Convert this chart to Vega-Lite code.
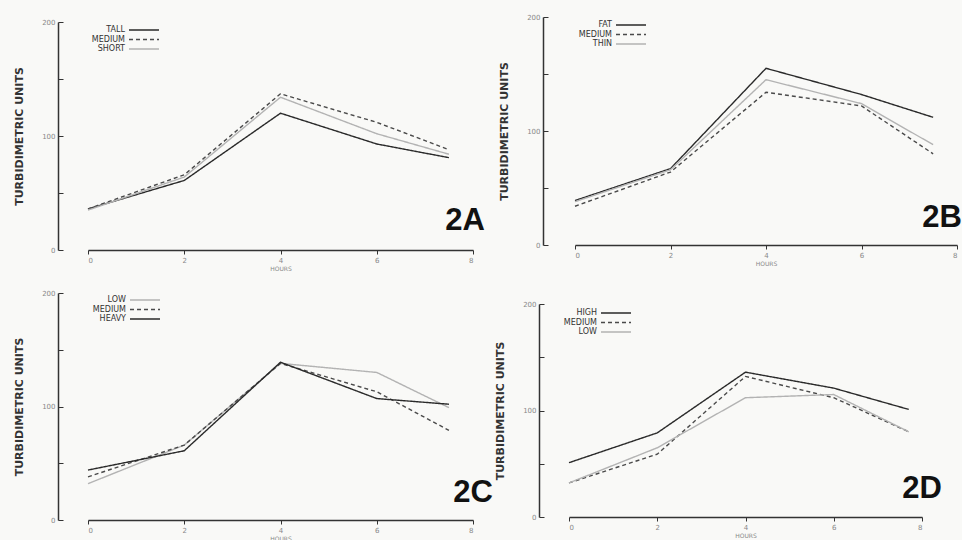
{
  "$schema": "https://vega.github.io/schema/vega-lite/v6.json",
  "padding": {"left": 13, "top": 13, "right": 0, "bottom": 0},
  "background": "#f9f9f7",
  "datasets": {
    "A": [
      {"group": "TALL", "hours": 0, "value": 36}, {"group": "TALL", "hours": 2, "value": 61}, {"group": "TALL", "hours": 4, "value": 120}, {"group": "TALL", "hours": 6, "value": 93}, {"group": "TALL", "hours": 7.5, "value": 81},
      {"group": "MEDIUM", "hours": 0, "value": 36}, {"group": "MEDIUM", "hours": 2, "value": 66}, {"group": "MEDIUM", "hours": 4, "value": 137}, {"group": "MEDIUM", "hours": 6, "value": 112}, {"group": "MEDIUM", "hours": 7.5, "value": 88},
      {"group": "SHORT", "hours": 0, "value": 35}, {"group": "SHORT", "hours": 2, "value": 64}, {"group": "SHORT", "hours": 4, "value": 134}, {"group": "SHORT", "hours": 6, "value": 102}, {"group": "SHORT", "hours": 7.5, "value": 84}
    ],
    "B": [
      {"group": "FAT", "hours": 0, "value": 39}, {"group": "FAT", "hours": 2, "value": 67}, {"group": "FAT", "hours": 4, "value": 155}, {"group": "FAT", "hours": 6, "value": 132}, {"group": "FAT", "hours": 7.5, "value": 112},
      {"group": "MEDIUM", "hours": 0, "value": 34}, {"group": "MEDIUM", "hours": 2, "value": 64}, {"group": "MEDIUM", "hours": 4, "value": 134}, {"group": "MEDIUM", "hours": 6, "value": 122}, {"group": "MEDIUM", "hours": 7.5, "value": 80},
      {"group": "THIN", "hours": 0, "value": 38}, {"group": "THIN", "hours": 2, "value": 66}, {"group": "THIN", "hours": 4, "value": 145}, {"group": "THIN", "hours": 6, "value": 124}, {"group": "THIN", "hours": 7.5, "value": 88}
    ],
    "C": [
      {"group": "LOW", "hours": 0, "value": 32}, {"group": "LOW", "hours": 2, "value": 66}, {"group": "LOW", "hours": 4, "value": 138}, {"group": "LOW", "hours": 6, "value": 130}, {"group": "LOW", "hours": 7.5, "value": 99},
      {"group": "MEDIUM", "hours": 0, "value": 38}, {"group": "MEDIUM", "hours": 2, "value": 66}, {"group": "MEDIUM", "hours": 4, "value": 138}, {"group": "MEDIUM", "hours": 6, "value": 113}, {"group": "MEDIUM", "hours": 7.5, "value": 79},
      {"group": "HEAVY", "hours": 0, "value": 44}, {"group": "HEAVY", "hours": 2, "value": 61}, {"group": "HEAVY", "hours": 4, "value": 139}, {"group": "HEAVY", "hours": 6, "value": 107}, {"group": "HEAVY", "hours": 7.5, "value": 102}
    ],
    "D": [
      {"group": "HIGH", "hours": 0, "value": 51}, {"group": "HIGH", "hours": 2, "value": 79}, {"group": "HIGH", "hours": 4, "value": 136}, {"group": "HIGH", "hours": 6, "value": 121}, {"group": "HIGH", "hours": 7.7, "value": 101},
      {"group": "MEDIUM", "hours": 0, "value": 32}, {"group": "MEDIUM", "hours": 2, "value": 59}, {"group": "MEDIUM", "hours": 4, "value": 132}, {"group": "MEDIUM", "hours": 6, "value": 112}, {"group": "MEDIUM", "hours": 7.7, "value": 80},
      {"group": "LOW", "hours": 0, "value": 32}, {"group": "LOW", "hours": 2, "value": 65}, {"group": "LOW", "hours": 4, "value": 112}, {"group": "LOW", "hours": 6, "value": 115}, {"group": "LOW", "hours": 7.7, "value": 80}
    ],
    "one": [{}]
  },
  "vconcat": [
    {
      "hconcat": [
        {
          "width": 385, "height": 233,
          "layer": [
            {
              "data": {"name": "A"},
              "mark": {"type": "line", "strokeWidth": 1.4},
              "encoding": {
                "x": {"field": "hours", "type": "quantitative", "scale": {"domain": [0, 8], "nice": false}, "axis": {"title": "HOURS", "values": [0, 2, 4, 6, 8]}},
                "y": {"field": "value", "type": "quantitative", "scale": {"domain": [0, 200], "nice": false, "range": [233, 5]}, "axis": {"title": "TURBIDIMETRIC UNITS", "values": [0, 50, 100, 150, 200]}},
                "color": {"field": "group", "type": "nominal", "scale": {"domain": ["TALL", "MEDIUM", "SHORT"], "range": ["#2a2a2a", "#4a4a4a", "#b3b3b3"]}, "legend": {"title": null, "legendX": 52, "legendY": 9}},
                "strokeDash": {"field": "group", "type": "nominal", "scale": {"domain": ["TALL", "MEDIUM", "SHORT"], "range": [[1, 0], [4, 3], [1, 0]]}, "legend": {"title": null, "legendX": 52, "legendY": 9}}
              }
            },
            {
              "data": {"name": "one"},
              "mark": {"type": "text", "text": "2A", "align": "right", "baseline": "alphabetic", "dx": 12, "font": "Liberation Sans", "fontSize": 31, "fontWeight": "bold", "color": "#111"},
              "encoding": {"x": {"datum": 8}, "y": {"datum": 17.5}}
            }
          ]
        },
        {
          "width": 382, "height": 228,
          "layer": [
            {
              "data": {"name": "B"},
              "mark": {"type": "line", "strokeWidth": 1.4},
              "encoding": {
                "x": {"field": "hours", "type": "quantitative", "scale": {"domain": [0, 8], "nice": false}, "axis": {"title": "HOURS", "values": [0, 2, 4, 6, 8]}},
                "y": {"field": "value", "type": "quantitative", "scale": {"domain": [0, 200], "nice": false}, "axis": {"title": "TURBIDIMETRIC UNITS", "offset": 32, "values": [0, 50, 100, 150, 200]}},
                "color": {"field": "group", "type": "nominal", "scale": {"domain": ["FAT", "MEDIUM", "THIN"], "range": ["#2a2a2a", "#4a4a4a", "#b3b3b3"]}, "legend": {"title": null, "legendX": 52, "legendY": 4}},
                "strokeDash": {"field": "group", "type": "nominal", "scale": {"domain": ["FAT", "MEDIUM", "THIN"], "range": [[1, 0], [4, 3], [1, 0]]}, "legend": {"title": null, "legendX": 52, "legendY": 4}}
              }
            },
            {
              "data": {"name": "one"},
              "mark": {"type": "text", "text": "2B", "align": "right", "baseline": "alphabetic", "dx": 5, "font": "Liberation Sans", "fontSize": 31, "fontWeight": "bold", "color": "#111"},
              "encoding": {"x": {"datum": 8}, "y": {"datum": 16}}
            }
          ]
        }
      ],
      "spacing": 13,
      "resolve": {"scale": {"color": "independent", "strokeDash": "independent"}, "legend": {"color": "independent", "strokeDash": "independent"}}
    },
    {
      "hconcat": [
        {
          "width": 385, "height": 227,
          "layer": [
            {
              "data": {"name": "C"},
              "mark": {"type": "line", "strokeWidth": 1.4},
              "encoding": {
                "x": {"field": "hours", "type": "quantitative", "scale": {"domain": [0, 8], "nice": false}, "axis": {"title": "HOURS", "values": [0, 2, 4, 6, 8]}},
                "y": {"field": "value", "type": "quantitative", "scale": {"domain": [0, 200], "nice": false}, "axis": {"title": "TURBIDIMETRIC UNITS", "values": [0, 50, 100, 150, 200]}},
                "color": {"field": "group", "type": "nominal", "scale": {"domain": ["LOW", "MEDIUM", "HEAVY"], "range": ["#b3b3b3", "#4a4a4a", "#2a2a2a"]}, "legend": {"title": null, "legendX": 53, "legendY": 3}},
                "strokeDash": {"field": "group", "type": "nominal", "scale": {"domain": ["LOW", "MEDIUM", "HEAVY"], "range": [[1, 0], [4, 3], [1, 0]]}, "legend": {"title": null, "legendX": 53, "legendY": 3}}
              }
            },
            {
              "data": {"name": "one"},
              "mark": {"type": "text", "text": "2C", "align": "right", "baseline": "alphabetic", "dx": 20, "font": "Liberation Sans", "fontSize": 31, "fontWeight": "bold", "color": "#111"},
              "encoding": {"x": {"datum": 8}, "y": {"datum": 16}}
            }
          ]
        },
        {
          "width": 353, "height": 224,
          "layer": [
            {
              "data": {"name": "D"},
              "mark": {"type": "line", "strokeWidth": 1.4},
              "encoding": {
                "x": {"field": "hours", "type": "quantitative", "scale": {"domain": [0, 8], "nice": false}, "axis": {"title": "HOURS", "values": [0, 2, 4, 6, 8]}},
                "y": {"field": "value", "type": "quantitative", "scale": {"domain": [0, 200], "nice": false, "range": [224, 11]}, "axis": {"title": "TURBIDIMETRIC UNITS", "values": [0, 50, 100, 150, 200]}},
                "color": {"field": "group", "type": "nominal", "scale": {"domain": ["HIGH", "MEDIUM", "LOW"], "range": ["#2a2a2a", "#4a4a4a", "#b3b3b3"]}, "legend": {"title": null, "legendX": 43, "legendY": 16}},
                "strokeDash": {"field": "group", "type": "nominal", "scale": {"domain": ["HIGH", "MEDIUM", "LOW"], "range": [[1, 0], [4, 3], [1, 0]]}, "legend": {"title": null, "legendX": 43, "legendY": 16}}
              }
            },
            {
              "data": {"name": "one"},
              "mark": {"type": "text", "text": "2D", "align": "right", "baseline": "alphabetic", "dx": 20, "font": "Liberation Sans", "fontSize": 31, "fontWeight": "bold", "color": "#111"},
              "encoding": {"x": {"datum": 8}, "y": {"datum": 18}}
            }
          ]
        }
      ],
      "spacing": 1,
      "resolve": {"scale": {"color": "independent", "strokeDash": "independent"}, "legend": {"color": "independent", "strokeDash": "independent"}}
    }
  ],
  "spacing": 18,
  "resolve": {"scale": {"color": "independent", "strokeDash": "independent"}, "legend": {"color": "independent", "strokeDash": "independent"}},
  "config": {
    "view": {"stroke": null},
    "axis": {"grid": false, "domainColor": "#333", "tickColor": "#333", "labelColor": "#888", "labelFont": "DejaVu Sans", "labelFontSize": 7, "titleFont": "DejaVu Sans"},
    "axisY": {"labelExpr": "datum.value % 100 === 0 ? datum.label : ''", "tickSize": -5, "labelPadding": 8, "offset": 30, "titleFontSize": 11, "titleFontWeight": "bold", "titleColor": "#333", "titlePadding": 17, "domainWidth": 1.5},
    "axisX": {"titleFontSize": 6, "titleFontWeight": "normal", "titleColor": "#888", "tickSize": 4, "labelPadding": 2, "titlePadding": 2, "domainWidth": 1.5},
    "legend": {"orient": "none", "labelFont": "DejaVu Sans", "labelFontSize": 8, "labelColor": "#333", "labelAlign": "right", "labelOffset": -23, "symbolType": "M-5,0H5", "symbolSize": 36, "symbolStrokeWidth": 1.4, "rowPadding": 1.5, "padding": 0, "labelLimit": 0}
  }
}
